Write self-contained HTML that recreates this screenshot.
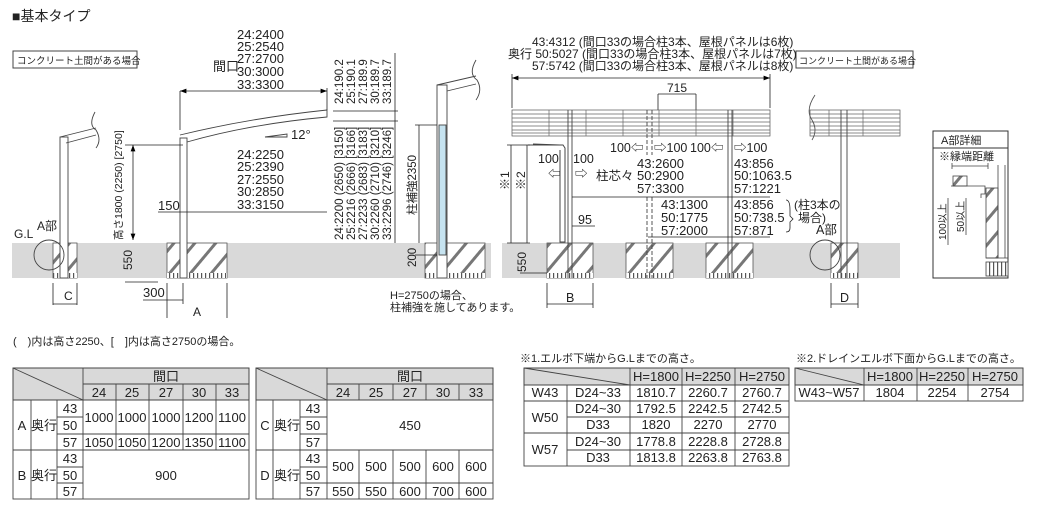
<!DOCTYPE html>
<html><head><meta charset="utf-8"><style>
html,body{margin:0;padding:0;background:#fff;}
svg{display:block;font-family:"Liberation Sans","Noto Sans CJK JP",sans-serif;}
</style></head><body>
<svg width="1057" height="513" viewBox="0 0 1057 513" xmlns="http://www.w3.org/2000/svg">
<defs>
<pattern id="h" width="16" height="16" patternUnits="userSpaceOnUse" patternTransform="rotate(40)">
<rect width="16" height="16" fill="#fff"/><rect x="0" y="0" width="3" height="16" fill="#777"/></pattern>
<pattern id="v" width="4" height="5" patternUnits="userSpaceOnUse"><rect width="4" height="5" fill="#fff"/><rect x="1" width="1.2" height="5" fill="#555"/></pattern>
<marker id="a" markerWidth="8" markerHeight="6" refX="8" refY="3" orient="auto-start-reverse"><path d="M0,0L8,3L0,6z" fill="#000"/></marker>
</defs>
<g font-size="12" fill="#222">
<text x="12" y="21" font-size="14">■基本タイプ</text>
<rect x="13" y="51" width="124" height="17" fill="#fff" stroke="#444"/>
<text x="17" y="64" font-size="9.5">コンクリート土間がある場合</text>
<rect x="796" y="51" width="117" height="17" fill="#fff" stroke="#444"/>
<text x="799" y="64" font-size="9">コンクリート土間がある場合</text>

<rect x="12" y="243" width="479" height="35" fill="#d9d9d9"/>
<rect x="502" y="243" width="398" height="35" fill="#d9d9d9"/>
<g stroke="#555" stroke-width="0.8">
<rect x="53" y="243" width="24" height="35" fill="url(#h)"/>
<rect x="167" y="243" width="60" height="35" fill="url(#h)"/>
<rect x="425" y="243" width="60" height="35" fill="url(#h)"/>
<rect x="547" y="243" width="46" height="35" fill="url(#h)"/>
<rect x="626" y="243" width="47" height="35" fill="url(#h)"/>
<rect x="706" y="243" width="47" height="35" fill="url(#h)"/>
<rect x="831" y="243" width="27" height="35" fill="url(#h)"/>
</g>
<g>
<rect x="53" y="273" width="24" height="5" fill="url(#v)"/>
<rect x="167" y="273" width="60" height="5" fill="url(#v)"/>
<rect x="425" y="273" width="60" height="5" fill="url(#v)"/>
<rect x="547" y="273" width="46" height="5" fill="url(#v)"/>
<rect x="626" y="273" width="47" height="5" fill="url(#v)"/>
<rect x="706" y="273" width="47" height="5" fill="url(#v)"/>
<rect x="831" y="273" width="27" height="5" fill="url(#v)"/>
</g>

<g stroke="#444" fill="none" stroke-width="0.9">
<rect x="60" y="137" width="8" height="141" fill="#fff"/>
<path d="M60,137 L96,128 M66,143 L96,135"/>
<path d="M95,112 Q88,125 96,130 Q102,140 96,148"/>
<circle cx="49" cy="255" r="15"/>
<rect x="180" y="138" width="7" height="140" fill="#fff"/>
<path d="M180,135 Q250,118 327,110 L327,117 Q250,124 187,142"/>
<path d="M265,137 L287,137 L287,134 Z"/>
<rect x="437" y="85" width="10" height="193" fill="#fff"/>
<rect x="439" y="125" width="7" height="130" fill="#c6e3f0"/>
<path d="M437,85 L476,76 M447,91 L476,84"/>
<path d="M476,60 Q468,74 477,80 Q483,90 476,100"/>
</g>
<g stroke="#222" stroke-width="0.8" fill="none">
<line x1="180" y1="91" x2="327" y2="91" marker-start="url(#a)" marker-end="url(#a)"/>
<line x1="180" y1="91" x2="180" y2="130"/><line x1="327" y1="88" x2="327" y2="110"/>
<line x1="133" y1="145" x2="133" y2="240" marker-start="url(#a)" marker-end="url(#a)"/>
<line x1="125" y1="145" x2="183" y2="145"/>
<line x1="125" y1="282" x2="158" y2="282"/>
<line x1="158" y1="212" x2="327" y2="212"/>
<line x1="333" y1="111" x2="398" y2="111"/><line x1="333" y1="121" x2="398" y2="121"/>
<line x1="395" y1="53" x2="395" y2="243"/>
<line x1="419" y1="125" x2="419" y2="243"/><line x1="415" y1="125" x2="437" y2="125"/><line x1="415" y1="255" x2="437" y2="255"/>
<line x1="53" y1="283" x2="53" y2="305"/><line x1="77" y1="283" x2="77" y2="305"/><line x1="53" y1="304" x2="77" y2="304"/>
<line x1="143" y1="300" x2="183" y2="300"/><line x1="183" y1="283" x2="183" y2="304"/>
<line x1="167" y1="283" x2="167" y2="318"/><line x1="227" y1="283" x2="227" y2="318"/>
</g>
<text x="14" y="238" font-size="12">G.L</text><text x="37" y="230">A部</text>
<text x="64" y="300">C</text><text x="143" y="297" font-size="13">300</text><text x="193" y="316">A</text>
<g font-size="13"><text x="237" y="39">24:2400</text><text x="237" y="51">25:2540</text><text x="237" y="63">27:2700</text><text x="237" y="76">30:3000</text><text x="237" y="89">33:3300</text>
<text x="213" y="71">間口</text>
<text x="291" y="139">12°</text>
<text x="237" y="159">24:2250</text><text x="237" y="171">25:2390</text><text x="237" y="184">27:2550</text><text x="237" y="196">30:2850</text><text x="237" y="209">33:3150</text>
<text x="158" y="210">150</text></g>
<text transform="translate(122,240) rotate(-90)" font-size="10.5">高さ1800 (2250) [2750]</text>
<text transform="translate(132,270) rotate(-90)" font-size="12">550</text>
<g font-size="11.5">
<text transform="translate(343,104) rotate(-90)">24:190.2</text><text transform="translate(355,104) rotate(-90)">25:190.1</text><text transform="translate(367,104) rotate(-90)">27:189.9</text><text transform="translate(379,104) rotate(-90)">30:189.7</text><text transform="translate(391,104) rotate(-90)">33:189.7</text>
<text transform="translate(343,240) rotate(-90)">24:2200 (2650) [3150]</text><text transform="translate(355,240) rotate(-90)">25:2216 (2666) [3166]</text><text transform="translate(367,240) rotate(-90)">27:2233 (2683) [3183]</text><text transform="translate(379,240) rotate(-90)">30:2260 (2710) [3210]</text><text transform="translate(391,240) rotate(-90)">33:2296 (2746) [3246]</text>
<text transform="translate(416,215) rotate(-90)">柱補強2350</text><text transform="translate(416,267) rotate(-90)">200</text>
</g>
<text x="390" y="299" font-size="11">H=2750の場合、</text><text x="390" y="311" font-size="11">柱補強を施してあります。</text>
<text x="13" y="345" font-size="11">(　)内は高さ2250、[　]内は高さ2750の場合。</text>

<g font-size="12"><text x="532" y="46">43:4312 (間口33の場合柱3本、屋根パネルは6枚)</text>
<text x="508" y="58">奥行 50:5027 (間口33の場合柱3本、屋根パネルは7枚)</text>
<text x="532" y="70">57:5742 (間口33の場合柱3本、屋根パネルは8枚)</text>
<text x="667" y="92">715</text></g>
<g stroke="#222" stroke-width="0.8" fill="none">
<line x1="512" y1="78" x2="770" y2="78" marker-start="url(#a)" marker-end="url(#a)"/>
<line x1="512" y1="74" x2="512" y2="108"/><line x1="770" y1="74" x2="770" y2="108"/>
<line x1="658" y1="94" x2="696" y2="94"/><line x1="658" y1="94" x2="658" y2="110"/><line x1="696" y1="94" x2="696" y2="110"/>
</g>
<g stroke="#555" stroke-width="0.7" fill="#fff">
<rect x="512" y="110" width="258" height="26"/>
<rect x="810" y="110" width="90" height="26"/>
</g>
<g stroke="#666" stroke-width="0.7">
<path d="M512,114H770M512,118H770M512,122H770M512,126H770M512,130H770M512,133H770"/>
<path d="M810,114H900M810,118H900M810,122H900M810,126H900M810,130H900M810,133H900"/>
<path d="M549,110V136M586,110V136M623,110V136M659,110V136M696,110V136M733,110V136M829,110V136M863,110V136"/>
</g>
<g stroke="#444" stroke-width="0.9" fill="none">
<path d="M568,110V278M572,110V278M728,110V278M732,110V278M841,110V278M847,110V278"/>
<path d="M647,110V155M652,110V155M647,197V278M652,197V278" stroke-dasharray="4,2"/>
<path d="M528,145H563L565,148V242H560V150" stroke-width="1"/>
<path d="M533,144L560,145"/>
<path d="M815,95Q805,110 812,120Q818,130 812,140" stroke="#555"/>
<circle cx="825" cy="255" r="15"/>
</g>
<g stroke="#222" stroke-width="0.8" fill="none">
<line x1="511" y1="145" x2="511" y2="243"/><line x1="527" y1="145" x2="527" y2="243"/>
<line x1="507" y1="145" x2="530" y2="145"/><line x1="507" y1="243" x2="530" y2="243"/>
<line x1="520" y1="273" x2="547" y2="273"/>
<line x1="572" y1="197" x2="770" y2="197"/><line x1="648" y1="237" x2="770" y2="237"/>
<line x1="572" y1="226" x2="595" y2="226"/>
<line x1="547" y1="283" x2="547" y2="308"/><line x1="593" y1="283" x2="593" y2="308"/><line x1="547" y1="304" x2="593" y2="304"/>
<line x1="831" y1="283" x2="831" y2="308"/><line x1="858" y1="283" x2="858" y2="308"/><line x1="831" y1="304" x2="858" y2="304"/>
<path d="M786,200Q790,200 790,210V216L793,219L790,222V228Q790,232 786,232"/>
</g>
<g font-size="12.5">
<text x="610" y="152">100⇦</text><text x="654" y="152">⇨100</text><text x="690" y="152">100⇦</text><text x="734" y="152">⇨100</text>
<text x="538" y="163">100</text><text x="573" y="163">100</text><text x="548" y="178">⇦</text><text x="575" y="178">⇨</text>
<g font-size="13">
<text x="637" y="168">43:2600</text><text x="637" y="180">50:2900</text><text x="637" y="193">57:3300</text>
<text x="734" y="168">43:856</text><text x="734" y="180">50:1063.5</text><text x="734" y="193">57:1221</text>
<text x="661" y="209">43:1300</text><text x="661" y="222">50:1775</text><text x="661" y="235">57:2000</text>
<text x="734" y="209">43:856</text><text x="734" y="222">50:738.5</text><text x="734" y="235">57:871</text>
</g>
<text x="596" y="180">柱芯々</text>
<text x="794" y="209" font-size="12">(柱3本の</text><text x="798" y="222" font-size="12">場合)</text>
<text x="578" y="224">95</text>
<text x="566" y="302">B</text><text x="840" y="302">D</text><text x="816" y="234">A部</text>
</g>
<text transform="translate(509,190) rotate(-90)" font-size="12">※1</text>
<text transform="translate(525,190) rotate(-90)" font-size="12">※2</text>
<text transform="translate(526,272) rotate(-90)" font-size="12">550</text>

<rect x="933" y="131" width="75" height="147" fill="#fff" stroke="#333"/>
<line x1="933" y1="148" x2="1008" y2="148" stroke="#333"/>
<text x="941" y="144" font-size="11">A部詳細</text><text x="939" y="160" font-size="11">※縁端距離</text>
<g stroke="#444" stroke-width="0.8" fill="none">
<path d="M952,166H988M952,163V169M988,163V169"/>
<rect x="953" y="176" width="14" height="10" fill="url(#h)"/>
<path d="M951,186H985V194H981V198"/>
<rect x="986" y="188" width="12" height="70" fill="url(#h)"/>
<path d="M998,165V258M1005,165V258M986,258H1008"/>
<rect x="986" y="262" width="22" height="14" fill="url(#v)"/>
<path d="M948,198V245M966,198V235"/>
</g>
<text transform="translate(946,240) rotate(-90)" font-size="10">100以上</text>
<text transform="translate(964,232) rotate(-90)" font-size="10">50以上</text>

<g stroke="#444" stroke-width="0.9">
<rect x="13" y="368" width="236" height="32" fill="#d9d9d9"/>
<rect x="256" y="368" width="237" height="32" fill="#d9d9d9"/>
<rect x="524" y="368" width="265" height="17" fill="#d9d9d9"/>
<rect x="795" y="368" width="228" height="17" fill="#d9d9d9"/>
</g>
<g stroke="#444" stroke-width="0.9" fill="none">
<rect x="13" y="368" width="236" height="131"/>
<path d="M13,368L83,400M83,384H249M83,368V499M116,384V450M149,384V450M183,384V450M216,384V450M13,400H249M13,450H249M57,417H83M57,434H249M57,467H83M57,483H83M31,400V499M57,400V499"/>
<rect x="256" y="368" width="237" height="131"/>
<path d="M256,368L327,400M327,384H493M327,368V499M359,384V400M393,384V400M426,384V400M459,384V400M256,400H493M256,450H493M300,417H327M300,434H327M300,467H327M300,483H493M273,400V499M300,400V499M359,450V499M393,450V499M426,450V499M459,450V499"/>
<rect x="524" y="368" width="265" height="98"/>
<path d="M524,368L630,385M567,385V466M630,368V466M682,368V466M735,368V466M524,385H789M524,401H789M567,417H789M524,433H789M567,450H789"/>
<rect x="795" y="368" width="228" height="33"/>
<path d="M795,368L864,385M864,368V401M917,368V401M968,368V401M795,385H1023"/>
</g>
<g font-size="13" text-anchor="middle" fill="#222">
<text x="166" y="381">間口</text><text x="99" y="397">24</text><text x="132" y="397">25</text><text x="166" y="397">27</text><text x="199" y="397">30</text><text x="232" y="397">33</text>
<text x="22" y="430">A</text><text x="44" y="430">奥行</text><text x="70" y="413">43</text><text x="70" y="430">50</text><text x="70" y="447">57</text>
<text x="99" y="422">1000</text><text x="132" y="422">1000</text><text x="166" y="422">1000</text><text x="199" y="422">1200</text><text x="232" y="422">1100</text>
<text x="99" y="447">1050</text><text x="132" y="447">1050</text><text x="166" y="447">1200</text><text x="199" y="447">1350</text><text x="232" y="447">1100</text>
<text x="22" y="480">B</text><text x="44" y="480">奥行</text><text x="70" y="463">43</text><text x="70" y="480">50</text><text x="70" y="496">57</text><text x="166" y="480">900</text>
<text x="410" y="381">間口</text><text x="343" y="397">24</text><text x="376" y="397">25</text><text x="410" y="397">27</text><text x="443" y="397">30</text><text x="476" y="397">33</text>
<text x="265" y="430">C</text><text x="287" y="430">奥行</text><text x="313" y="413">43</text><text x="313" y="430">50</text><text x="313" y="447">57</text><text x="410" y="430">450</text>
<text x="265" y="480">D</text><text x="287" y="480">奥行</text><text x="313" y="463">43</text><text x="313" y="480">50</text><text x="313" y="496">57</text>
<text x="343" y="471">500</text><text x="376" y="471">500</text><text x="410" y="471">500</text><text x="443" y="471">600</text><text x="476" y="471">600</text>
<text x="343" y="496">550</text><text x="376" y="496">550</text><text x="410" y="496">600</text><text x="443" y="496">700</text><text x="476" y="496">600</text>
<text x="656" y="381">H=1800</text><text x="708" y="381">H=2250</text><text x="762" y="381">H=2750</text>
<text x="545" y="397">W43</text><text x="598" y="397">D24~33</text><text x="656" y="397">1810.7</text><text x="708" y="397">2260.7</text><text x="762" y="397">2760.7</text>
<text x="545" y="422">W50</text><text x="598" y="413">D24~30</text><text x="656" y="413">1792.5</text><text x="708" y="413">2242.5</text><text x="762" y="413">2742.5</text>
<text x="598" y="429">D33</text><text x="656" y="429">1820</text><text x="708" y="429">2270</text><text x="762" y="429">2770</text>
<text x="545" y="454">W57</text><text x="598" y="446">D24~30</text><text x="656" y="446">1778.8</text><text x="708" y="446">2228.8</text><text x="762" y="446">2728.8</text>
<text x="598" y="462">D33</text><text x="656" y="462">1813.8</text><text x="708" y="462">2263.8</text><text x="762" y="462">2763.8</text>
<text x="890" y="381">H=1800</text><text x="942" y="381">H=2250</text><text x="995" y="381">H=2750</text>
<text x="829" y="397">W43~W57</text><text x="890" y="397">1804</text><text x="942" y="397">2254</text><text x="995" y="397">2754</text>
</g>
<text x="520" y="362" font-size="11">※1.エルボ下端からG.Lまでの高さ。</text>
<text x="796" y="362" font-size="11">※2.ドレインエルボ下面からG.Lまでの高さ。</text>
</g>
</svg>
</body></html>
